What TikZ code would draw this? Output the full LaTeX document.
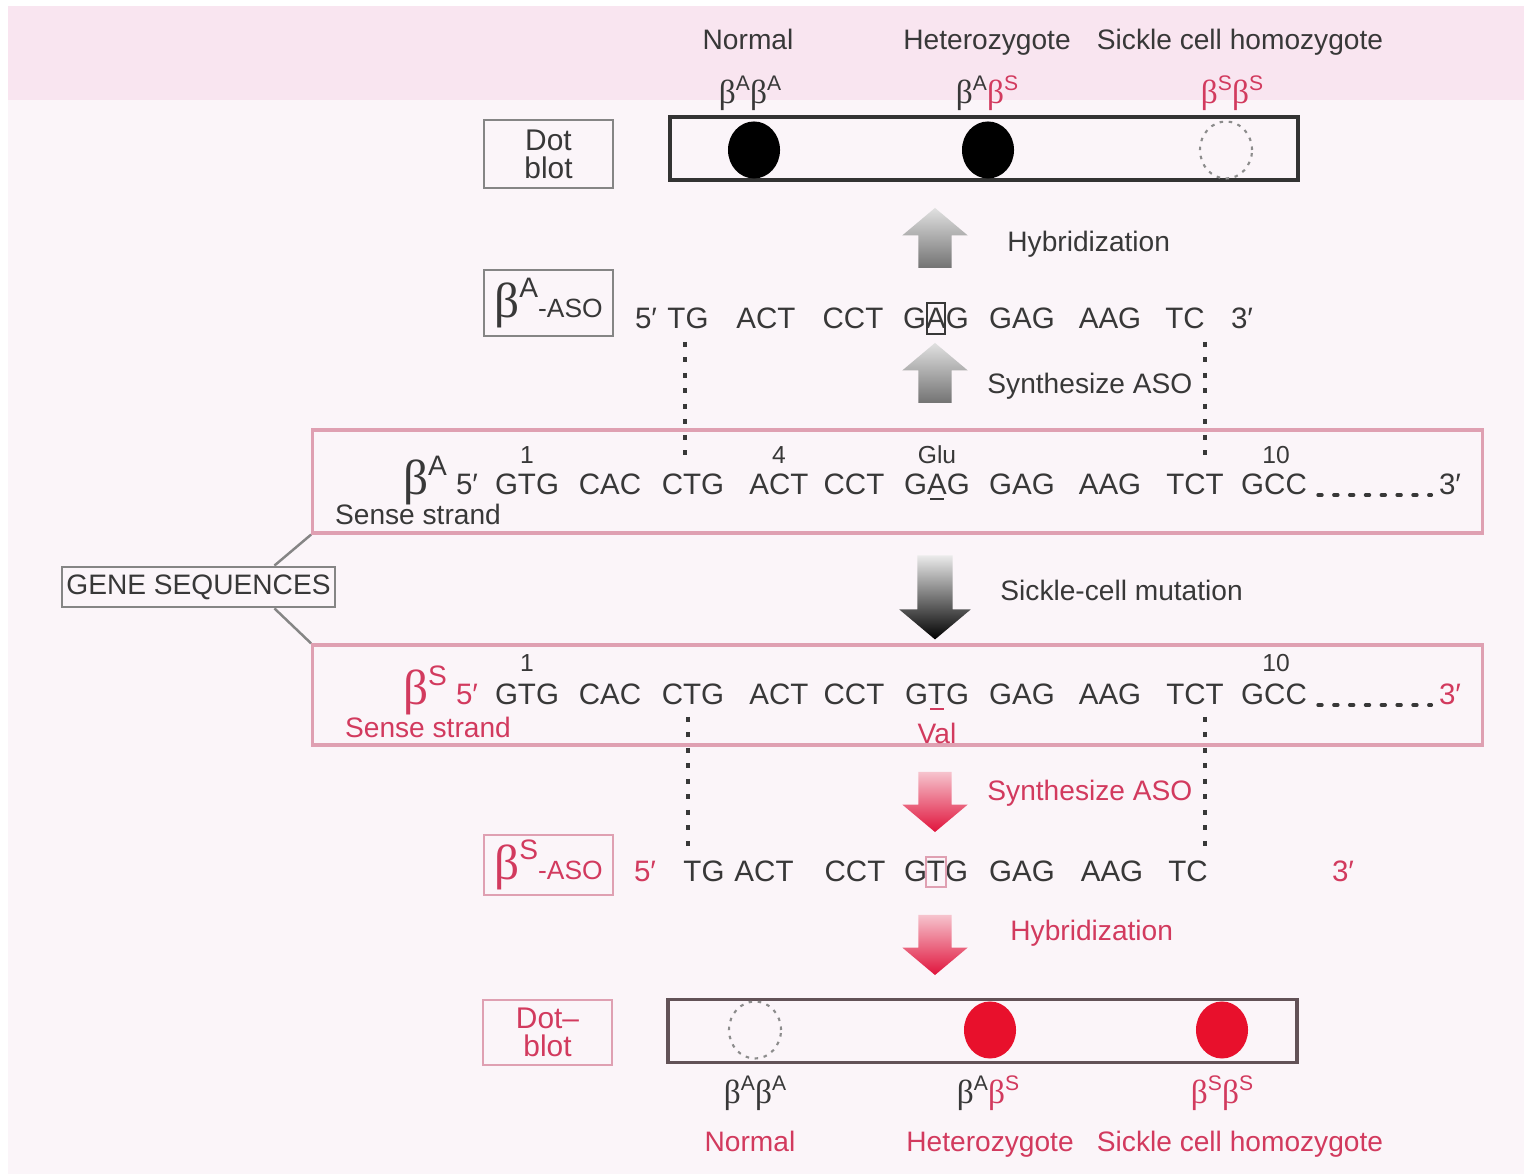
\documentclass[tikz,border=0pt]{standalone}
\usepackage{fontspec}
\setmainfont{Liberation Sans}
\newfontfamily\grkfont{Liberation Serif}
\usepackage{xcolor}
\usetikzlibrary{positioning,shapes.geometric,shapes.arrows}

\definecolor{ink}{HTML}{383838}
\definecolor{redtxt}{HTML}{D23A5E}
\definecolor{dotred}{HTML}{E8102C}
\definecolor{pinkline}{HTML}{DFA0B2}
\definecolor{boxgray}{HTML}{858585}
\definecolor{paper}{HTML}{FBF5F9}
\definecolor{band}{HTML}{F9E5F0}
\definecolor{redtop}{HTML}{F6C3CD}
\definecolor{redtip}{HTML}{E0143C}

\newcommand{\bigbeta}[1]{{\grkfont\fontsize{14}{14}\selectfont β}\raisebox{5.5pt}{\fontsize{8}{8}\selectfont #1}}
\newcommand{\smbeta}[1]{{\grkfont\fontsize{9.5}{9.5}\selectfont β}\raisebox{3.8pt}{\fontsize{6}{6}\selectfont #1}}

\begin{document}
\begin{tikzpicture}[x=0.01cm, y=-0.01cm,
  font=\fontsize{8}{9}\selectfont,
  every node/.style={text=ink},
  redtx/.style={text=redtxt},
  hdr/.style={anchor=base},
  codon/.style={anchor=base, inner sep=0pt, font=\fontsize{8.4}{10}\selectfont},
  num/.style={inner sep=0pt, font=\fontsize{7}{8}\selectfont},
  tag/.style={draw=boxgray, line width=0.8pt, minimum width=1.29cm, align=center,
              inner sep=1pt, font=\fontsize{8.5}{8}\selectfont},
  strip/.style={draw=black!80, line width=1.1pt, minimum width=6.28cm, minimum height=0.63cm},
  seqbox/.style={draw=pinkline, line width=0.9pt, minimum width=11.69cm},
  blot/.style={ellipse, minimum width=0.52cm, minimum height=0.57cm, inner sep=0pt},
  nodot/.style={blot, draw=black!45, line width=0.6pt, dash pattern=on 1pt off 1.6pt},
  blockup/.style={single arrow, rotate=90, inner sep=0.16cm, single arrow head extend=0.16cm,
                  single arrow tip angle=100, minimum height=0.6cm},
  blockdown/.style={blockup, rotate=180},
  probe/.style={line width=0.9pt, dash pattern=on 1.4pt off 3pt, draw=ink}
]
\useasboundingbox (0,0) rectangle (1524,1174);
\fill[white] (0,0) rectangle (1524,1174);
\fill[paper] (8,6) rectangle (1524,1174);
\fill[band] (8,6) rectangle (1524,100);

% top dot blot
\node[hdr] (hdrN) at (748,50) {Normal};
\node[hdr] (hdrH) at (987,50) {Heterozygote};
\node[hdr] (hdrS) at (1240,50) {Sickle cell homozygote};
\node (gtN) at (750,93) {\smbeta{A}\smbeta{A}};
\node (gtH) at (987,93) {\smbeta{A}\textcolor{redtxt}{\smbeta{S}}};
\node (gtS) at (1232,93) {\textcolor{redtxt}{\smbeta{S}\smbeta{S}}};
\node[tag, minimum height=0.68cm] (blotA) at (548.5,154) {Dot\\blot};
\node[strip] (stripA) at (984,148.5) {};
\node[blot, fill=black] (dotN) at (754,150) {};
\node[blot, fill=black] (dotH) at (988,150) {};
\node[nodot] (dotS) at (1226,150) {};

\node[blockup, top color=black!12, bottom color=black!55] (hybA) at (935,245) {};
\node[anchor=west] (hybAl) at (995,244) {Hybridization};

% beta A probe
\node[tag, minimum height=0.66cm] (asoA) at (548.5,303) {\bigbeta{A}\fontsize{7.5}{8}\selectfont-ASO};
\foreach \cod/\px [count=\k] in {5′/646, TG/688, ACT/766, CCT/853, GAG/936, GAG/1022, AAG/1110, TC/1185, 3′/1242}
  \node[codon] (pa\k) at (\px,329) {\cod};
\draw[line width=0.6pt, ink] (927,303) rectangle (945,334);

\node[blockup, top color=black!12, bottom color=black!55] (synA) at (935,380) {};
\node[anchor=west] (synAl) at (975,386) {Synthesize ASO};

\coordinate (pl1) at (685,342);
\coordinate (pl2) at (685,462);
\coordinate (pr1) at (1205,342);
\coordinate (pr2) at (1205,462);
\draw[probe] (pl1) -- (pl2);
\draw[probe] (pr1) -- (pr2);

% normal gene
\node[seqbox, minimum height=1.03cm] (rowA) at (897.5,481.5) {};
\node[codon] (headA) at (425,495) {\bigbeta{A}};
\foreach \cod/\px [count=\k] in {5′/467, GTG/527, CAC/610, CTG/693, ACT/779, CCT/854, GAG/937, GAG/1022, AAG/1110, TCT/1195, GCC/1274}
  \node[codon] (sa\k) at (\px,495) {\cod};
\node[codon] (endA) at (1450,495) {3′};
\draw[line width=1pt, ink, dash pattern=on 1.1pt off 3.4pt, line cap=round] ([xshift=3pt]sa11.base east) -- ([xshift=-2pt]endA.base west);
\draw[line width=0.6pt, ink] (930,499) -- (944,499);
\node[num] (n1A) at (527,455) {1};
\node[num] (n4A) at (779,455) {4};
\node[num] (gluA) at (937,455) {Glu};
\node[num] (n10A) at (1276,455) {10};
\node (senseA) at (418,514) {Sense strand};

\node[tag, font=\fontsize{8}{9}\selectfont, minimum width=2.73cm, minimum height=0.4cm] (gene) at (198.5,587) {GENE SEQUENCES};
\draw[boxgray, line width=0.7pt] ([xshift=-0.62cm]gene.north east) -- (rowA.south west);

\node[blockdown, inner sep=0.17cm, single arrow head extend=0.18cm, minimum height=0.84cm,
      top color=black!8, bottom color=black] (mut) at (935,590) {};
\node[anchor=west] (mutl) at (988,590) {Sickle-cell mutation};

% sickle gene
\node[seqbox, minimum height=1.0cm] (rowS) at (897.5,695) {};
\draw[boxgray, line width=0.7pt] ([xshift=-0.62cm]gene.south east) -- (rowS.north west);
\node[codon, redtx] (headS) at (425,705) {\bigbeta{S}};
\node[codon, redtx] (sS0) at (467,705) {5′};
\foreach \cod/\px [count=\k] in {GTG/527, CAC/610, CTG/693, ACT/779, CCT/854, GTG/937, GAG/1022, AAG/1110, TCT/1195, GCC/1274}
  \node[codon] (ss\k) at (\px,705) {\cod};
\node[codon, redtx] (endS) at (1450,705) {3′};
\draw[line width=1pt, ink, dash pattern=on 1.1pt off 3.4pt, line cap=round] ([xshift=3pt]ss10.base east) -- ([xshift=-2pt]endS.base west);
\draw[line width=0.6pt, redtxt] (930,709) -- (944,709);
\node[num] (n1S) at (527,663) {1};
\node[num] (n10S) at (1276,663) {10};
\node[redtx] (senseS) at (428,727) {Sense strand};
\node[redtx] (valS) at (937,733) {Val};

\coordinate (ql1) at (688,717);
\coordinate (ql2) at (688,855);
\coordinate (qr1) at (1205,717);
\coordinate (qr2) at (1205,855);
\draw[probe] (ql1) -- (ql2);
\draw[probe] (qr1) -- (qr2);

\node[blockdown, top color=redtop, bottom color=redtip] (synS) at (935,795) {};
\node[anchor=west, redtx] (synSl) at (975,793) {Synthesize ASO};

% sickle probe
\node[tag, draw=pinkline, minimum height=0.6cm] (asoS) at (548.5,865) {\textcolor{redtxt}{\bigbeta{S}\fontsize{7.5}{8}\selectfont-ASO}};
\node[codon, redtx] (qs0) at (645,882) {5′};
\foreach \cod/\px [count=\k] in {TG/704, ACT/764, CCT/855, GTG/936, GAG/1022, AAG/1112, TC/1188}
  \node[codon] (qs\k) at (\px,882) {\cod};
\node[codon, redtx] (qsEnd) at (1343,882) {3′};
\draw[line width=0.6pt, pinkline] (926,857) rectangle (946,887);

\node[blockdown, top color=redtop, bottom color=redtip] (hybS) at (935,938) {};
\node[anchor=west, redtx] (hybSl) at (998,933) {Hybridization};

% bottom dot blot
\node[tag, draw=pinkline, minimum height=0.65cm, redtx] (blotS) at (547.5,1032.5) {Dot–\\blot};
\node[strip, draw=ink!75!pinkline] (stripS) at (982.5,1031) {};
\node[nodot] (dotN2) at (755,1030) {};
\node[blot, fill=dotred] (dotH2) at (990,1030) {};
\node[blot, fill=dotred] (dotS2) at (1222,1030) {};
\node (gtN2) at (755,1093) {\smbeta{A}\smbeta{A}};
\node (gtH2) at (988,1093) {\smbeta{A}\textcolor{redtxt}{\smbeta{S}}};
\node (gtS2) at (1222,1093) {\textcolor{redtxt}{\smbeta{S}\smbeta{S}}};
\node[hdr, redtx] (ftN) at (750,1152) {Normal};
\node[hdr, redtx] (ftH) at (990,1152) {Heterozygote};
\node[hdr, redtx] (ftS) at (1240,1152) {Sickle cell homozygote};
\end{tikzpicture}
\end{document}
